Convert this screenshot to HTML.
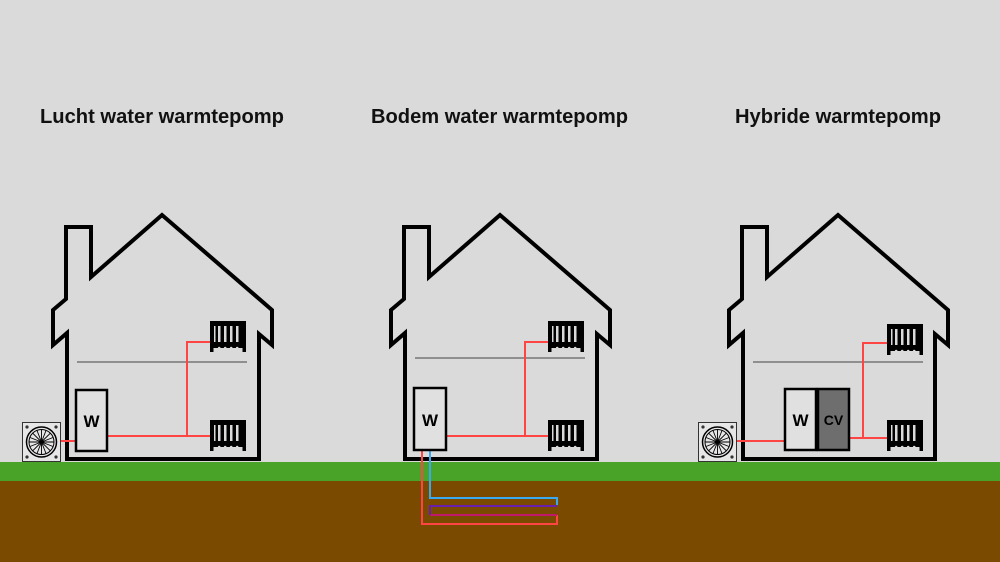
<!DOCTYPE html>
<html><head><meta charset="utf-8"><style>
html,body{margin:0;padding:0;background:#dadada;}
svg{display:block;}
</style></head><body>
<svg width="1000" height="562" viewBox="0 0 1000 562" xmlns="http://www.w3.org/2000/svg">
<defs>
<g id="house">
<path d="M67,459 L67,333 L53,345 L53,310 L66,299 L66,227 L91,227 L91,277 L162,215 L272,310 L272,345 L259,334 L259,459 Z" fill="none" stroke="#000" stroke-width="4" stroke-linejoin="miter"/>
</g>
<g id="rad">
<rect x="0" y="0" width="36" height="27" rx="2" fill="#000"/>
<rect x="0" y="0" width="3.5" height="31" fill="#000"/>
<rect x="32.5" y="0" width="3.5" height="31" fill="#000"/>
<rect x="8" y="5" width="2.5" height="16" fill="#dadada"/>
<rect x="14" y="5" width="2.5" height="16" fill="#dadada"/>
<rect x="20" y="5" width="2.5" height="16" fill="#dadada"/>
<rect x="26" y="5" width="2.5" height="16" fill="#dadada"/>
<rect x="4" y="5" width="1.5" height="16" fill="#dadada"/>
<circle cx="9.2" cy="27" r="1.3" fill="#dadada"/>
<circle cx="15.2" cy="27" r="1.3" fill="#dadada"/>
<circle cx="21.2" cy="27" r="1.3" fill="#dadada"/>
<circle cx="27.2" cy="27" r="1.3" fill="#dadada"/>
</g>
<g id="fan">
<rect x="0.5" y="0.5" width="38" height="39" fill="#e6e6e6" stroke="#333" stroke-width="1"/>
<circle cx="5" cy="5" r="1.6" fill="#333"/><circle cx="34" cy="5" r="1.6" fill="#333"/>
<circle cx="5" cy="35" r="1.6" fill="#333"/><circle cx="34" cy="35" r="1.6" fill="#333"/>
<circle cx="19.5" cy="20" r="15" fill="none" stroke="#000" stroke-width="1.5"/>
<circle cx="19.5" cy="20" r="12.5" fill="none" stroke="#000" stroke-width="1"/>
<g stroke="#000" stroke-width="0.9" fill="none">
<path d="M19.5,20 L19.5,7.5 M19.5,20 L28.3,11.2 M19.5,20 L32,20 M19.5,20 L28.3,28.8 M19.5,20 L19.5,32.5 M19.5,20 L10.7,28.8 M19.5,20 L7,20 M19.5,20 L10.7,11.2"/>
<path d="M19.5,20 L24,8.5 M19.5,20 L31,15.5 M19.5,20 L31,24.5 M19.5,20 L24,31.5 M19.5,20 L15,31.5 M19.5,20 L8,24.5 M19.5,20 L8,15.5 M19.5,20 L15,8.5"/>
</g>
<circle cx="19.5" cy="20" r="1.5" fill="#000"/>
</g>
</defs>
<rect width="1000" height="562" fill="#dadada"/>
<rect x="0" y="462" width="1000" height="20" fill="#4aa329"/>
<rect x="0" y="481" width="1000" height="81" fill="#7a4a00"/>

<g font-family="Liberation Sans, sans-serif" font-weight="bold" font-size="20" fill="#111">
<text x="40" y="123" textLength="244" lengthAdjust="spacingAndGlyphs">Lucht water warmtepomp</text>
<text x="371" y="123" textLength="257" lengthAdjust="spacingAndGlyphs">Bodem water warmtepomp</text>
<text x="735" y="123" textLength="206" lengthAdjust="spacingAndGlyphs">Hybride warmtepomp</text>
</g>

<!-- House 1 -->
<use href="#house"/>
<line x1="77" y1="362" x2="247" y2="362" stroke="#444" stroke-width="1"/>
<g stroke="#ff4444" stroke-width="2" fill="none">
<path d="M107,436 L210,436 M187,436 L187,342 L210,342 M61,441 L76,441"/>
</g>
<rect x="76" y="390" width="31" height="61" fill="#e0e0e0" stroke="#000" stroke-width="2.5"/>
<text x="91.5" y="427" text-anchor="middle" font-family="Liberation Sans, sans-serif" font-weight="bold" font-size="17">W</text>
<use href="#rad" x="210" y="321"/>
<use href="#rad" x="210" y="420"/>
<use href="#fan" x="22" y="422"/>

<!-- House 2 -->
<use href="#house" x="338"/>
<line x1="415" y1="358" x2="585" y2="358" stroke="#444" stroke-width="1"/>
<g stroke="#ff4444" stroke-width="2" fill="none">
<path d="M446,436 L548,436 M525,436 L525,342 L548,342"/>
<path d="M422,450 L422,524 L557,524 L557,515"/>
</g>
<path d="M430,515 L557,515" stroke="#c0186a" stroke-width="2" fill="none"/>
<path d="M557,506 L430,506 L430,515" stroke="#6a1fb0" stroke-width="2" fill="none"/>
<path d="M430,450 L430,498 L557,498 L557,505" stroke="#3aaaf0" stroke-width="2" fill="none"/>
<rect x="414" y="388" width="32" height="62" fill="#e0e0e0" stroke="#000" stroke-width="2.5"/>
<text x="430" y="426" text-anchor="middle" font-family="Liberation Sans, sans-serif" font-weight="bold" font-size="17">W</text>
<use href="#rad" x="548" y="321"/>
<use href="#rad" x="548" y="420"/>

<!-- House 3 -->
<use href="#house" x="676"/>
<line x1="753" y1="362" x2="923" y2="362" stroke="#444" stroke-width="1"/>
<g stroke="#ff4444" stroke-width="2" fill="none">
<path d="M849,438 L887,438 M863,438 L863,343 L887,343 M737,441 L784,441"/>
</g>
<rect x="785" y="389" width="31" height="61" fill="#e0e0e0" stroke="#000" stroke-width="2.5"/>
<rect x="818" y="389" width="31" height="61" fill="#6e6e6e" stroke="#000" stroke-width="2.5"/>
<text x="800.5" y="426" text-anchor="middle" font-family="Liberation Sans, sans-serif" font-weight="bold" font-size="17">W</text>
<text x="833.5" y="425" text-anchor="middle" font-family="Liberation Sans, sans-serif" font-weight="bold" font-size="14">CV</text>
<use href="#rad" x="887" y="324"/>
<use href="#rad" x="887" y="420"/>
<use href="#fan" x="698" y="422"/>
</svg>
</body></html>
